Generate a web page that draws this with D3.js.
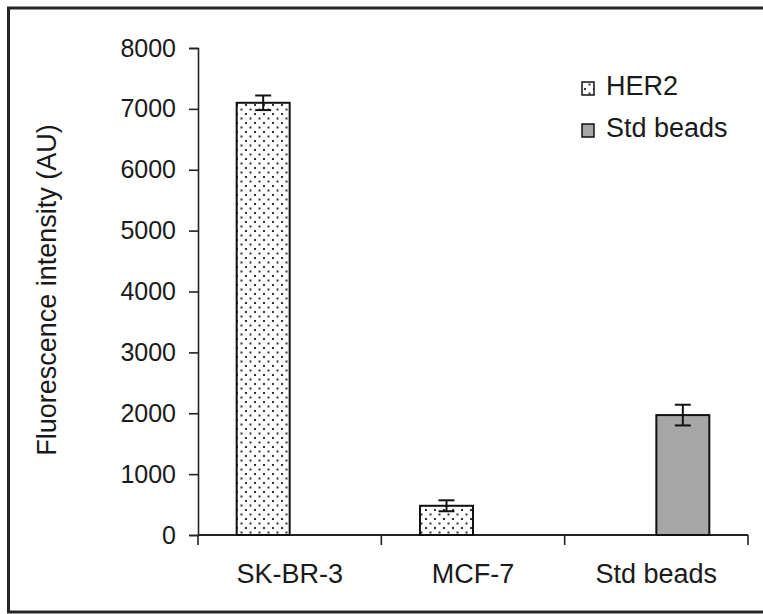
<!DOCTYPE html>
<html>
<head>
<meta charset="utf-8">
<script src="https://cdn.jsdelivr.net/npm/d3@7"></script>
<style>
  body { margin: 0; background: #fff; }
  text { font-family: "Liberation Sans", Arial, sans-serif; fill: #1a1a1a; }
</style>
</head>
<body>
<div id="chart"></div>
<script>
// data
const categories = ['SK-BR-3', 'MCF-7', 'Std beads'];
const series = ['HER2', 'Std beads'];
const her2Values = [7100, 480, null];
const her2Errors = [120, 90, null];
const beadValues = [null, null, 1970];
const beadErrors = [null, null, 170];
const yTicks = [0, 1000, 2000, 3000, 4000, 5000, 6000, 7000, 8000];
const yTitle = 'Fluorescence intensity (AU)';

const W = 763, H = 614;
const margin = {top: 48, right: 15, bottom: 79, left: 198};
const width = 748 - margin.left;
const height = 535 - margin.top;

const svg = d3.select('#chart').append('svg')
    .attr('width', W)
    .attr('height', H);

// dotted fill for HER2
const defs = svg.append('defs');
const pat = defs.append('pattern')
    .attr('id', 'dots')
    .attr('patternUnits', 'userSpaceOnUse')
    .attr('width', 9).attr('height', 9);
pat.append('rect').attr('width', 9).attr('height', 9).attr('fill', '#fff');
pat.append('rect').attr('x', 2).attr('y', 2).attr('width', 2).attr('height', 2).attr('fill', '#333');
pat.append('rect').attr('x', 6.5).attr('y', 6.5).attr('width', 2).attr('height', 2).attr('fill', '#333');

// outer frame
svg.append('rect')
    .attr('x', 8.5).attr('y', 8)
    .attr('width', W + 10).attr('height', 604)
    .attr('fill', 'none')
    .attr('stroke', '#262626')
    .attr('stroke-width', 3);

const chart = svg.append('g')
    .attr('transform', `translate(${margin.left},${margin.top})`);

const x = d3.scaleBand().domain(categories).range([0, width]).padding(0);
const xSub = d3.scaleBand().domain(series).range([0, x.bandwidth()]).paddingInner(0).paddingOuter(0.73);
const y = d3.scaleLinear().domain([0, 8000]).range([height, 0]);

// y axis
const yAxis = d3.axisLeft(y).tickValues(yTicks).tickSize(9).tickPadding(13).tickFormat(d3.format('d'));
const yg = chart.append('g').attr('class', 'axis y-axis').call(yAxis);
yg.select('.domain').attr('stroke', '#222').attr('stroke-width', 1.6);
yg.selectAll('.tick line').attr('stroke', '#222').attr('stroke-width', 1.6);
yg.selectAll('.tick text').attr('font-size', 25).attr('fill', '#1a1a1a');

// x axis: ticks between the categories
const xg = chart.append('g')
    .attr('class', 'axis x-axis')
    .attr('transform', `translate(0,${height})`);
xg.append('line')
    .attr('x1', 0).attr('x2', width)
    .attr('stroke', '#222').attr('stroke-width', 2);
const bounds = categories.map(c => x(c)).concat([width]);
xg.selectAll('.xtick').data(bounds).join('line')
    .attr('class', 'xtick')
    .attr('x1', d => d).attr('x2', d => d)
    .attr('y1', 0).attr('y2', 10)
    .attr('stroke', '#222').attr('stroke-width', 1.6);
xg.selectAll('.xlabel').data(categories).join('text')
    .attr('class', 'xlabel')
    .attr('x', d => x(d) + x.bandwidth() / 2)
    .attr('y', 48)
    .attr('text-anchor', 'middle')
    .attr('font-size', 27)
    .text(d => d);

// bars
const rows = [];
categories.forEach((c, i) => {
    if (her2Values[i] != null) rows.push({cat: c, s: 'HER2', v: her2Values[i], e: her2Errors[i]});
    if (beadValues[i] != null) rows.push({cat: c, s: 'Std beads', v: beadValues[i], e: beadErrors[i]});
});
const fillOf = s => s === 'HER2' ? 'url(#dots)' : '#a6a6a6';

chart.selectAll('.bar').data(rows).join('rect')
    .attr('class', 'bar')
    .attr('x', d => x(d.cat) + xSub(d.s))
    .attr('y', d => y(d.v))
    .attr('width', xSub.bandwidth())
    .attr('height', d => height - y(d.v))
    .attr('fill', d => fillOf(d.s))
    .attr('stroke', '#111')
    .attr('stroke-width', 2);

// error bars
const eb = chart.selectAll('.err').data(rows).join('g').attr('class', 'err')
    .attr('transform', d => `translate(${x(d.cat) + xSub(d.s) + xSub.bandwidth() / 2},0)`);
eb.append('line')
    .attr('y1', d => y(d.v + d.e)).attr('y2', d => y(d.v - d.e))
    .attr('stroke', '#111').attr('stroke-width', 2);
eb.append('line')
    .attr('x1', -8).attr('x2', 8)
    .attr('y1', d => y(d.v + d.e)).attr('y2', d => y(d.v + d.e))
    .attr('stroke', '#111').attr('stroke-width', 2);
eb.append('line')
    .attr('x1', -8).attr('x2', 8)
    .attr('y1', d => y(d.v - d.e)).attr('y2', d => y(d.v - d.e))
    .attr('stroke', '#111').attr('stroke-width', 2);

// y title
svg.append('text')
    .attr('transform', 'translate(56,290) rotate(-90)')
    .attr('text-anchor', 'middle')
    .attr('font-size', 27)
    .text(yTitle);

// legend
const legend = svg.append('g').attr('transform', 'translate(582,0)');
const lg = legend.selectAll('g').data(series).join('g')
    .attr('transform', (d, i) => `translate(0,${95 + i * 42})`);
lg.append('rect')
    .attr('x', 0).attr('y', -13)
    .attr('width', 12).attr('height', 13)
    .attr('fill', d => fillOf(d))
    .attr('stroke', '#111').attr('stroke-width', 1.5);
lg.append('text')
    .attr('x', 24).attr('y', 0)
    .attr('font-size', 27)
    .text(d => d);
</script>
</body>
</html>
